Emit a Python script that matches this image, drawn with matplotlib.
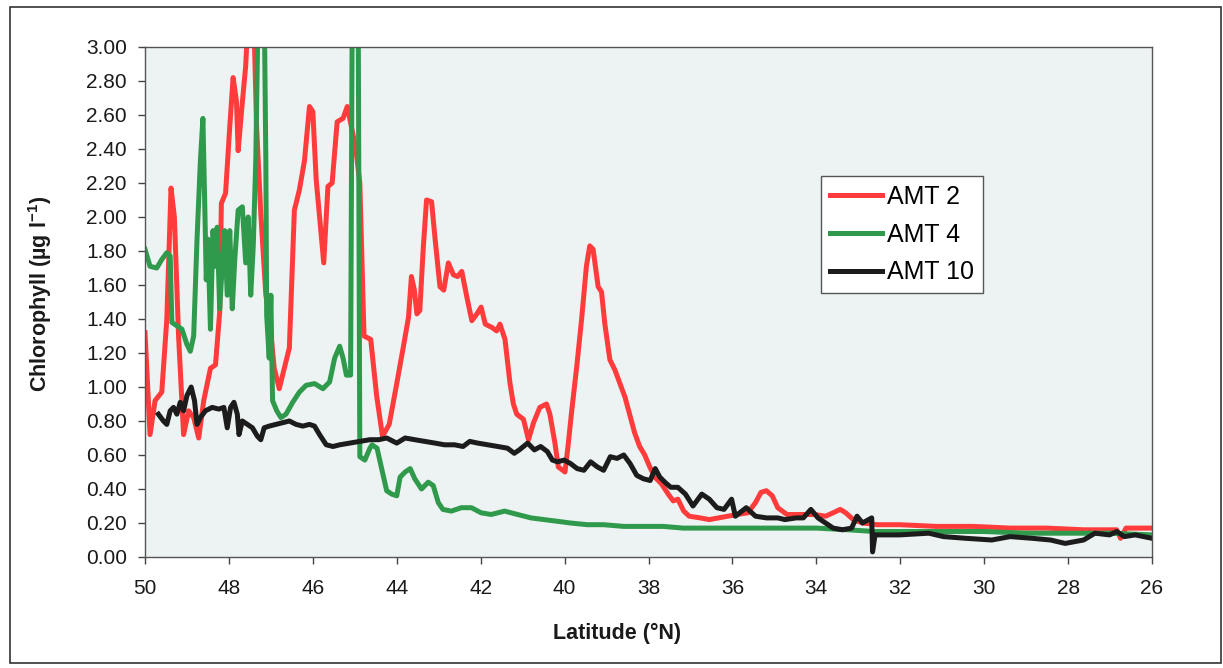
import matplotlib
matplotlib.use("Agg")
import matplotlib.pyplot as plt
from matplotlib.patches import Rectangle

plt.rcParams['font.family'] = ['Liberation Sans', 'DejaVu Sans']
plt.rcParams['mathtext.fontset'] = 'custom'
plt.rcParams['mathtext.rm'] = 'Liberation Sans'
plt.rcParams['mathtext.bf'] = 'Liberation Sans:bold'

# AMT 2 transect
lat_amt2 = [50.00, 49.88, 49.76, 49.60, 49.48, 49.38, 49.30, 49.20, 49.08, 48.96,
            48.84, 48.72, 48.60, 48.44, 48.32, 48.22, 48.18, 48.08, 47.98, 47.90,
            47.82, 47.78, 47.70, 47.60, 47.52, 47.42, 47.34, 47.24, 47.12, 47.04,
            46.92, 46.80, 46.68, 46.56, 46.44, 46.32, 46.20, 46.08, 46.00, 45.92,
            45.84, 45.74, 45.64, 45.54, 45.42, 45.28, 45.18, 45.08, 44.98, 44.88,
            44.78, 44.62, 44.48, 44.34, 44.18, 44.00, 43.84, 43.72, 43.65, 43.58,
            43.52, 43.45, 43.37, 43.29, 43.17, 43.09, 42.97, 42.88, 42.77, 42.65,
            42.55, 42.45, 42.33, 42.21, 42.09, 41.99, 41.89, 41.73, 41.62, 41.54,
            41.42, 41.30, 41.22, 41.14, 40.98, 40.86, 40.74, 40.59, 40.43, 40.35,
            40.23, 40.15, 39.99, 39.91, 39.83, 39.71, 39.59, 39.48, 39.40, 39.32,
            39.20, 39.12, 39.04, 38.92, 38.80, 38.68, 38.56, 38.44, 38.33, 38.21,
            38.09, 37.97, 37.85, 37.69, 37.53, 37.41, 37.30, 37.16, 37.03, 36.77,
            36.55, 36.33, 36.11, 35.89, 35.63, 35.45, 35.32, 35.19, 35.05, 34.92,
            34.70, 34.40, 34.04, 33.78, 33.60, 33.43, 33.30, 33.12, 32.90, 32.55,
            32.02, 31.14, 30.26, 29.38, 28.51, 27.63, 26.84, 26.75, 26.62, 26.00]
chl_amt2 = [1.32, 0.72, 0.92, 0.97, 1.40, 2.17, 2.00, 1.30, 0.72, 0.86,
            0.82, 0.70, 0.92, 1.11, 1.13, 1.44, 2.08, 2.14, 2.53, 2.82,
            2.68, 2.39, 2.62, 2.89, 3.30, 3.30, 2.53, 2.02, 1.54, 1.42,
            1.11, 0.99, 1.11, 1.23, 2.04, 2.16, 2.33, 2.65, 2.62, 2.22,
            2.00, 1.73, 2.18, 2.20, 2.56, 2.58, 2.65, 2.53, 2.41, 2.20,
            1.30, 1.28, 0.95, 0.71, 0.78, 1.02, 1.24, 1.41, 1.65, 1.57,
            1.43, 1.45, 1.81, 2.10, 2.09, 1.88, 1.59, 1.57, 1.73, 1.66,
            1.65, 1.68, 1.53, 1.39, 1.43, 1.47, 1.37, 1.35, 1.33, 1.37,
            1.28, 1.02, 0.90, 0.84, 0.81, 0.69, 0.79, 0.88, 0.90, 0.84,
            0.67, 0.53, 0.50, 0.67, 0.86, 1.12, 1.41, 1.71, 1.83, 1.81,
            1.59, 1.56, 1.37, 1.16, 1.10, 1.02, 0.94, 0.83, 0.73, 0.65,
            0.60, 0.53, 0.47, 0.43, 0.37, 0.33, 0.34, 0.27, 0.24, 0.23,
            0.22, 0.23, 0.24, 0.25, 0.26, 0.32, 0.38, 0.39, 0.36, 0.29,
            0.25, 0.25, 0.25, 0.24, 0.26, 0.28, 0.26, 0.22, 0.20, 0.19,
            0.19, 0.18, 0.18, 0.17, 0.17, 0.16, 0.16, 0.11, 0.17, 0.17]

# AMT 4 transect
lat_amt4 = [50.00, 49.88, 49.72, 49.60, 49.48, 49.40, 49.36, 49.24, 49.12, 49.00,
            48.92, 48.84, 48.76, 48.68, 48.62, 48.58, 48.54, 48.50, 48.44, 48.38,
            48.32, 48.28, 48.22, 48.16, 48.10, 48.04, 47.98, 47.92, 47.86, 47.78,
            47.68, 47.60, 47.54, 47.48, 47.42, 47.36, 47.30, 47.16, 47.12, 47.10,
            47.04, 47.00, 46.96, 46.86, 46.76, 46.64, 46.48, 46.32, 46.16, 45.96,
            45.76, 45.60, 45.48, 45.36, 45.28, 45.20, 45.10, 45.06, 44.92, 44.88,
            44.76, 44.64, 44.59, 44.47, 44.36, 44.24, 44.12, 44.00, 43.92, 43.80,
            43.68, 43.57, 43.41, 43.25, 43.13, 43.01, 42.90, 42.70, 42.46, 42.22,
            41.99, 41.75, 41.43, 41.12, 40.80, 40.49, 40.17, 39.86, 39.46, 39.07,
            38.59, 38.12, 37.65, 37.17, 36.00, 35.00, 34.00, 33.25, 32.60, 31.00,
            30.00, 29.00, 28.00, 27.00, 26.00]
chl_amt4 = [1.81, 1.71, 1.70, 1.75, 1.79, 1.77, 1.38, 1.36, 1.34, 1.25,
            1.21, 1.30, 1.87, 2.33, 2.58, 2.12, 1.63, 1.87, 1.34, 1.92,
            1.71, 1.94, 1.46, 1.71, 1.92, 1.54, 1.92, 1.46, 1.75, 2.04,
            2.06, 1.73, 2.00, 1.54, 1.83, 2.33, 3.30, 3.30, 2.33, 1.42,
            1.17, 1.54, 0.92, 0.86, 0.82, 0.84, 0.91, 0.97, 1.01, 1.02,
            0.99, 1.03, 1.17, 1.24, 1.17, 1.07, 1.07, 3.30, 3.30, 0.59,
            0.57, 0.64, 0.66, 0.64, 0.52, 0.39, 0.37, 0.36, 0.47, 0.50,
            0.52, 0.46, 0.40, 0.44, 0.42, 0.32, 0.28, 0.27, 0.29, 0.29,
            0.26, 0.25, 0.27, 0.25, 0.23, 0.22, 0.21, 0.20, 0.19, 0.19,
            0.18, 0.18, 0.18, 0.17, 0.17, 0.17, 0.17, 0.16, 0.15, 0.15,
            0.15, 0.14, 0.14, 0.14, 0.13]

# AMT 10 transect
lat_amt10 = [49.68, 49.56, 49.48, 49.40, 49.32, 49.24, 49.16, 49.08, 49.00, 48.90,
             48.82, 48.76, 48.68, 48.56, 48.40, 48.24, 48.12, 48.04, 47.96, 47.88,
             47.80, 47.76, 47.68, 47.56, 47.44, 47.32, 47.24, 47.16, 47.04, 46.88,
             46.72, 46.56, 46.40, 46.24, 46.08, 45.96, 45.84, 45.68, 45.52, 45.36,
             45.12, 44.88, 44.64, 44.43, 44.24, 44.00, 43.80, 43.57, 43.33, 43.09,
             42.86, 42.62, 42.42, 42.26, 42.07, 41.83, 41.59, 41.36, 41.20, 41.08,
             40.88, 40.72, 40.57, 40.41, 40.29, 40.17, 40.01, 39.86, 39.70, 39.54,
             39.38, 39.22, 39.07, 38.91, 38.75, 38.59, 38.44, 38.28, 38.12, 37.96,
             37.84, 37.73, 37.61, 37.47, 37.30, 37.12, 36.94, 36.73, 36.55, 36.37,
             36.20, 36.02, 35.93, 35.67, 35.45, 35.19, 34.92, 34.75, 34.48, 34.31,
             34.13, 33.96, 33.78, 33.60, 33.38, 33.16, 33.03, 32.90, 32.68, 32.66,
             32.60, 32.02, 31.32, 30.97, 30.44, 29.82, 29.38, 28.86, 28.42, 28.07,
             27.63, 27.36, 27.01, 26.84, 26.66, 26.40, 26.00]
chl_amt10 = [0.84, 0.80, 0.78, 0.86, 0.88, 0.84, 0.91, 0.86, 0.95, 1.00,
             0.92, 0.78, 0.82, 0.86, 0.88, 0.87, 0.88, 0.76, 0.88, 0.91,
             0.84, 0.72, 0.80, 0.78, 0.76, 0.71, 0.69, 0.76, 0.77, 0.78,
             0.79, 0.80, 0.78, 0.77, 0.78, 0.77, 0.72, 0.66, 0.65, 0.66,
             0.67, 0.68, 0.69, 0.69, 0.70, 0.67, 0.70, 0.69, 0.68, 0.67,
             0.66, 0.66, 0.65, 0.68, 0.67, 0.66, 0.65, 0.64, 0.61, 0.63,
             0.67, 0.63, 0.65, 0.62, 0.57, 0.56, 0.57, 0.55, 0.52, 0.51,
             0.56, 0.53, 0.51, 0.59, 0.58, 0.60, 0.55, 0.48, 0.46, 0.45,
             0.52, 0.47, 0.44, 0.41, 0.41, 0.37, 0.30, 0.37, 0.34, 0.29,
             0.28, 0.34, 0.24, 0.29, 0.24, 0.23, 0.23, 0.22, 0.23, 0.23,
             0.28, 0.23, 0.20, 0.17, 0.16, 0.17, 0.24, 0.20, 0.23, 0.03,
             0.13, 0.13, 0.14, 0.12, 0.11, 0.10, 0.12, 0.11, 0.10, 0.08,
             0.10, 0.14, 0.13, 0.15, 0.12, 0.13, 0.11]

series_names = ['AMT 2', 'AMT 4', 'AMT 10']
y_ticks = [0.0, 0.2, 0.4, 0.6, 0.8, 1.0, 1.2, 1.4, 1.6, 1.8, 2.0, 2.2, 2.4, 2.6, 2.8, 3.0]
x_ticks = [50, 48, 46, 44, 42, 40, 38, 36, 34, 32, 30, 28, 26]

fig = plt.figure(figsize=(12.23, 6.68), dpi=100)
fig.patch.set_facecolor('white')

# thin frame round the whole chart
fig.patches.append(Rectangle((10 / 1223, 5 / 668), 1211 / 1223, 656 / 668,
                             transform=fig.transFigure, fill=False,
                             edgecolor='#333333', linewidth=1.2))

ax = fig.add_axes([145 / 1223, 111 / 668, 1007 / 1223, 510 / 668])
ax.set_facecolor('#edf2f2')

lw = 3.6
ax.plot(lat_amt2, chl_amt2, color='#ff3b3b', lw=lw, label=series_names[0])
ax.plot(lat_amt4, chl_amt4, color='#2f9a4c', lw=lw, label=series_names[1])
ax.plot(lat_amt10, chl_amt10, color='#1c1c1c', lw=lw, label=series_names[2])

ax.set_xlim(50, 26)
ax.set_ylim(0, 3)
ax.set_xticks(x_ticks)
ax.set_xticklabels([str(v) for v in x_ticks])
ax.set_yticks(y_ticks)
ax.set_yticklabels(['%.2f' % v for v in y_ticks])
ax.tick_params(axis='both', direction='out', length=5, width=1, colors='#444444',
               labelsize=15, labelcolor='#1a1a1a')
ax.tick_params(axis='y', pad=8)
ax.tick_params(axis='x', pad=11)
for side in ['left', 'right', 'top', 'bottom']:
    ax.spines[side].set_color('#555555')
    ax.spines[side].set_linewidth(1.0)

fig.text(617 / 1223, 1 - 633 / 668, 'Latitude (°N)', ha='center', va='center',
         fontsize=15.5, fontweight='bold', color='#1a1a1a')
fig.text(40 / 1223, 1 - 294 / 668, r'Chlorophyll (µg l$^{\mathbf{-1}}$)', ha='center',
         va='center', rotation=90, fontsize=15.5, fontweight='bold', color='#1a1a1a')

leg = ax.legend(loc='upper left', bbox_to_anchor=(821 / 1223, 1 - 176 / 668),
                bbox_transform=fig.transFigure, fontsize=18, frameon=True,
                fancybox=False, handlelength=2.1, handletextpad=0.2,
                labelspacing=0.55, borderpad=0.35, borderaxespad=0)
leg.get_frame().set_edgecolor('#555555')
leg.get_frame().set_linewidth(1.0)
leg.get_frame().set_facecolor('white')
leg.get_frame().set_alpha(1)

fig.savefig('out.png', dpi=100)
